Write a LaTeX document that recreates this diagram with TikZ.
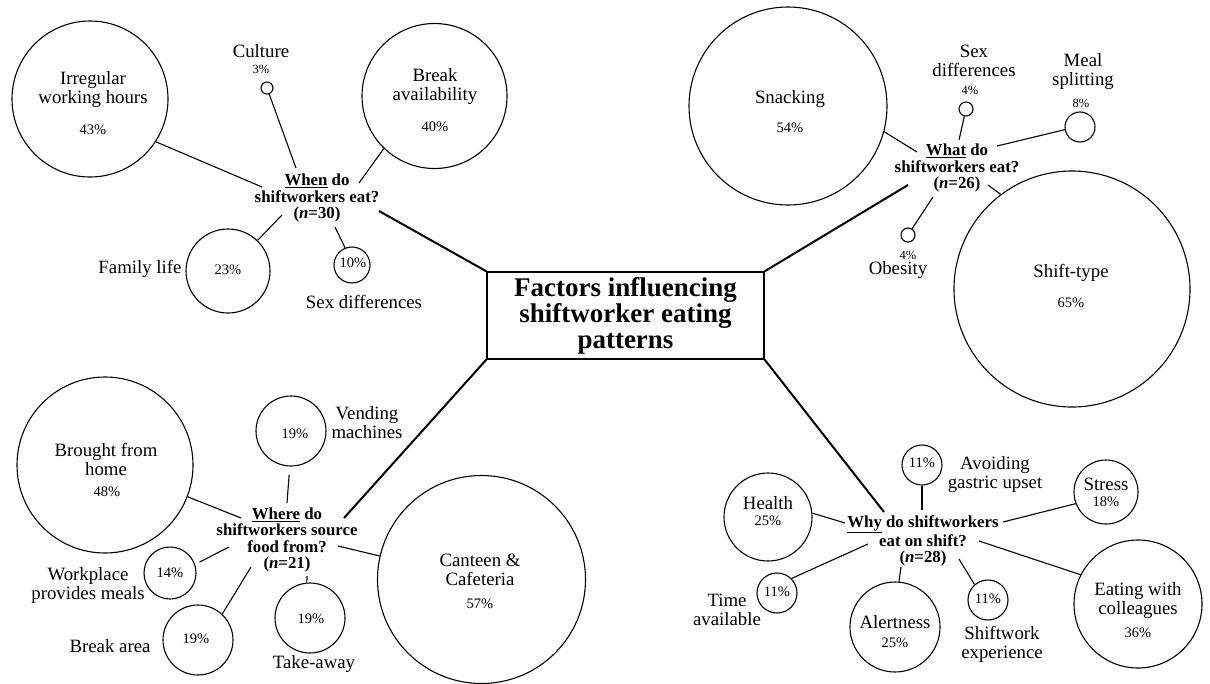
\documentclass[tikz,border=0pt]{standalone}
\usepackage{fontspec}
\setmainfont{Liberation Serif}
\begin{document}
\begin{tikzpicture}[x=1pt,y=-1pt,
 bub/.style={circle, draw, line width=1.1pt, minimum size=#1, inner sep=0pt},
 lab/.style={font=\fontsize{18.8}{19}\selectfont, align=center, inner sep=0pt},
 pct/.style={font=\fontsize{14.5}{15}\selectfont, inner sep=0pt},
 spct/.style={font=\fontsize{12.5}{13}\selectfont, inner sep=0pt},
 hub/.style={font=\bfseries\fontsize{16.8}{16.5}\selectfont, align=center, inner sep=0pt},
 spoke/.style={line width=1.1pt},
 trunk/.style={line width=2pt}]
\useasboundingbox (0,0) rectangle (1210,683);

% ---------- central box ----------
\node[draw, line width=1.5pt, minimum width=277pt, minimum height=87pt, inner sep=2pt,
      font=\bfseries\fontsize{27}{26}\selectfont, align=center] (title) at (625.5,315.5)
      {Factors influencing\\shiftworker eating\\patterns};

% ---------- WHEN ----------
\node[bub=156pt] (irr) at (90,99) {};
\node[lab] (irrT) at (93,90) {Irregular\\working hours};
\node[pct] (irrP) at (93,130) {43\%};
\node[bub=12pt] (cul) at (267,88) {};
\node[lab] (culT) at (261,51) {Culture};
\node[spct] (culP) at (261,69) {3\%};
\node[bub=145pt] (brk) at (434.5,96) {};
\node[lab] (brkT) at (435,87) {Break\\availability};
\node[pct] (brkP) at (435,127) {40\%};
\node[bub=84pt] (fam) at (228,271) {};
\node[pct] (famP) at (228,270) {23\%};
\node[lab] (famT) at (140,269) {Family life};
\node[bub=36pt] (sxw) at (352,265) {};
\node[pct] (sxwP) at (353,263) {10\%};
\node[lab] (sxwT) at (364,302) {Sex differences};
\node[hub] (when) at (317,198) {\underline{When} do\\shiftworkers eat?\\(\textit{n}=30)};
\coordinate (w0) at (379,211);
\coordinate (w1) at (262,187);
\coordinate (w2) at (296,168);
\coordinate (w3) at (359,183);
\coordinate (w4) at (282,215);
\coordinate (w5) at (335,227);
\draw[spoke] (irr.-33) -- (w1);
\draw[spoke] (cul.-70) -- (w2);
\draw[spoke] (brk.-134) -- (w3);
\draw[spoke] (fam.46) -- (w4);
\draw[spoke] (sxw.112) -- (w5);
\draw[trunk] (title.north west) -- (w0);

% ---------- WHAT ----------
\node[bub=198pt] (snk) at (788,106) {};
\node[lab] (snkT) at (790,99) {Snacking};
\node[pct] (snkP) at (790,128) {54\%};
\node[bub=14pt] (sxh) at (966,109) {};
\node[lab] (sxhT) at (974,61) {Sex\\differences};
\node[spct] (sxhP) at (970,90) {4\%};
\node[bub=30pt] (mea) at (1080,127) {};
\node[lab] (meaT) at (1083,72) {Meal\\splitting};
\node[spct] (meaP) at (1081,103) {8\%};
\node[bub=14pt] (obe) at (908,235) {};
\node[spct] (obeP) at (908,255) {4\%};
\node[lab] (obeT) at (898,270) {Obesity};
\node[bub=236pt] (sht) at (1072,289) {};
\node[lab] (shtT) at (1071,273) {Shift-type};
\node[pct] (shtP) at (1071,303) {65\%};
\node[hub] (what) at (957,168) {\underline{What} do\\shiftworkers eat?\\(\textit{n}=26)};
\coordinate (h0) at (908,185);
\coordinate (h1) at (917,152);
\coordinate (h2) at (959,140);
\coordinate (h3) at (997,146);
\coordinate (h4) at (933,197);
\coordinate (h5) at (988,185);
\draw[spoke] (snk.-15.6) -- (h1);
\draw[spoke] (sxh.-103) -- (h2);
\draw[spoke] (mea.190) -- (h3);
\draw[spoke] (obe.57) -- (h4);
\draw[spoke] (sht.127) -- (h5);
\draw[trunk] (title.north east) -- (h0);

% ---------- WHERE ----------
\node[bub=176pt] (hom) at (105,465) {};
\node[lab] (homT) at (106,459) {Brought from\\home};
\node[pct] (homP) at (107,492) {48\%};
\node[bub=70pt] (ven) at (291,431) {};
\node[pct] (venP) at (295,434) {19\%};
\node[lab] (venT) at (367,423) {Vending\\machines};
\node[bub=52pt] (wpl) at (170,573) {};
\node[pct] (wplP) at (170,573) {14\%};
\node[lab] (wplT) at (88,585) {Workplace\\provides meals};
\node[bub=70pt] (bar) at (198,640) {};
\node[pct] (barP) at (196,639) {19\%};
\node[lab] (barT) at (110,646) {Break area};
\node[bub=70pt] (tak) at (310,618) {};
\node[pct] (takP) at (311,619) {19\%};
\node[lab] (takT) at (314,664) {Take-away};
\node[bub=208pt] (can) at (481.5,579.5) {};
\node[lab] (canT) at (480,570) {Canteen \&\\Cafeteria};
\node[pct] (canP) at (480,604) {57\%};
\node[hub] (where) at (287,540) {\underline{Where} do\\shiftworkers source\\food from?\\(\textit{n}=21)};
\coordinate (r0) at (344,518);
\coordinate (r1) at (241,518);
\coordinate (r2) at (287,503);
\coordinate (r3) at (229,547);
\coordinate (r4) at (251,567);
\coordinate (r5) at (307,576);
\coordinate (r6) at (338,546);
\draw[spoke] (hom.-21) -- (r1);
\draw[spoke, shorten <=8pt] (ven.-92) -- (r2);
\draw[spoke, shorten <=5pt] (wpl.19) -- (r3);
\draw[spoke] (bar.47) -- (r4);
\draw[spoke] (tak.95) -- (r5);
\draw[spoke] (can.167) -- (r6);
\draw[trunk] (title.south west) -- (r0);

% ---------- WHY ----------
\node[bub=40pt] (gas) at (922,465) {};
\node[pct] (gasP) at (922,463) {11\%};
\node[lab] (gasT) at (995,474) {Avoiding\\gastric upset};
\node[bub=88pt] (hea) at (768,517) {};
\node[lab] (heaT) at (768,503) {Health};
\node[pct] (heaP) at (768,521) {25\%};
\node[bub=64pt] (str) at (1106,492) {};
\node[lab] (strT) at (1106,484) {Stress};
\node[pct] (strP) at (1106,502) {18\%};
\node[bub=128pt] (eat) at (1138,604) {};
\node[lab] (eatT) at (1138,600) {Eating with\\colleagues};
\node[pct] (eatP) at (1138,633) {36\%};
\node[bub=40pt] (tim) at (777,593) {};
\node[pct] (timP) at (777,592) {11\%};
\node[lab] (timT) at (727,610) {Time\\available};
\node[bub=90pt] (ale) at (895,627) {};
\node[lab] (aleT) at (895,622) {Alertness};
\node[pct] (aleP) at (895,643) {25\%};
\node[bub=40pt] (she) at (988,600) {};
\node[pct] (sheP) at (988,599) {11\%};
\node[lab] (sheT) at (1002,644) {Shiftwork\\experience};
\node[hub] (why) at (923,541) {\underline{Why} do shiftworkers\\eat on shift?\\(\textit{n}=28)};
\coordinate (y0) at (884,512);
\coordinate (y1) at (922,510);
\coordinate (y2) at (845,523);
\coordinate (y3) at (1003,522);
\coordinate (y4) at (979,541);
\coordinate (y5) at (868,544);
\coordinate (y6) at (901,567);
\coordinate (y7) at (959,559);
\draw[spoke] (gas.south) -- (y1);
\draw[spoke] (hea.5) -- (y2);
\draw[spoke] (str.201) -- (y3);
\draw[spoke] (eat.153) -- (y4);
\draw[spoke] (tim.45) -- (y5);
\draw[spoke] (ale.85) -- (y6);
\draw[spoke] (she.131) -- (y7);
\draw[trunk] (title.south east) -- (y0);
\end{tikzpicture}
\end{document}
